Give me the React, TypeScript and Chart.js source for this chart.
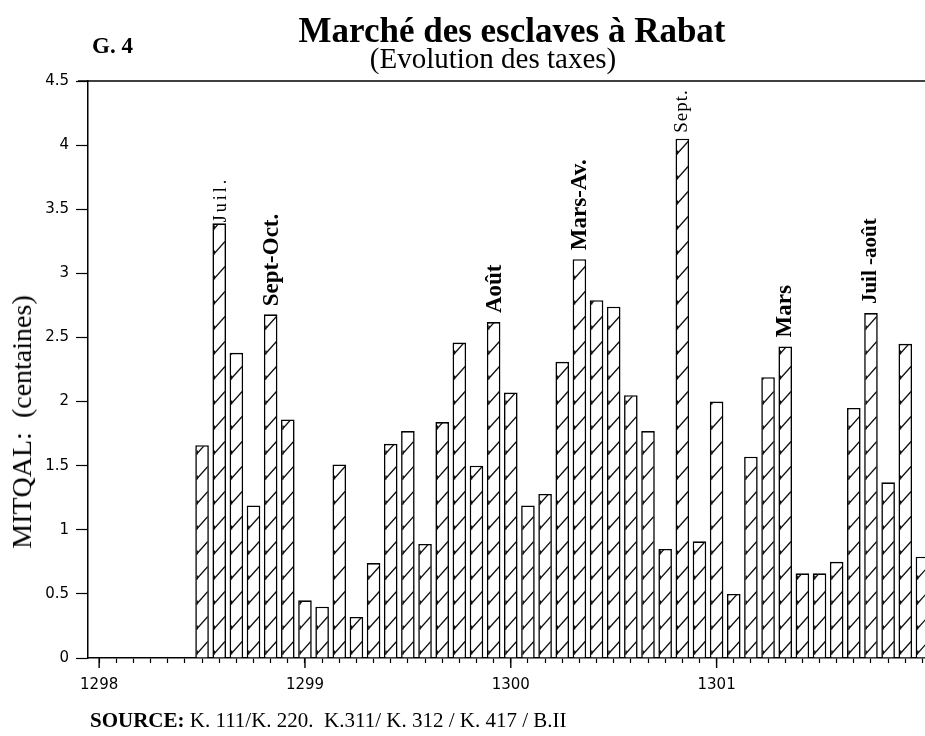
import React, { useEffect, useRef } from 'react';
import { Chart, registerables } from 'chart.js';

Chart.register(...registerables);

// Months counted from the start of 1298 (hijri), one bar per month
const monthIndex = Array.from({ length: 43 }, (_, i) => 6 + i);
const taxValues = [
  1.66, 3.39, 2.38, 1.19, 2.68, 1.86, 0.45, 0.40, 1.51, 0.32, 0.74, 1.67,
  1.77, 0.89, 1.84, 2.46, 1.50, 2.62, 2.07, 1.19, 1.28, 2.31, 3.11, 2.79,
  2.74, 2.05, 1.77, 0.85, 4.05, 0.91, 2.00, 0.50, 1.57, 2.19, 2.43, 0.66,
  0.66, 0.75, 1.95, 2.69, 1.37, 2.45, 0.79,
];
const monthTicks = Array.from({ length: 49 }, (_, i) => i);
const yearTicks = [0, 12, 24, 36];
const yearLabels = ['1298', '1299', '1300', '1301'];
const yTickValues = [0, 0.5, 1, 1.5, 2, 2.5, 3, 3.5, 4, 4.5];
const yTickLabels = ['0', '0.5', '1', '1.5', '2', '2.5', '3', '3.5', '4', '4.5'];
const noteBars = [1, 4, 17, 22, 28, 34, 39];
const noteTexts = ['Juil.', 'Sept-Oct.', 'Août', 'Mars-Av.', 'Sept.', 'Mars', 'Juil -août'];

const SERIF = '"Liberation Serif", "Times New Roman", serif';
const HAND = '"DejaVu Sans", sans-serif';

const noteStyles = [
  { bold: false, size: 18, spacing: 3, gap: 1, dx: 2 },
  { bold: true, size: 23, spacing: 0, gap: 8, dx: 1 },
  { bold: true, size: 23, spacing: 0, gap: 9, dx: 1 },
  { bold: true, size: 23, spacing: 0, gap: 9, dx: 1 },
  { bold: false, size: 19, spacing: 1, gap: 6, dx: 0 },
  { bold: true, size: 23, spacing: 0, gap: 9, dx: 0 },
  { bold: true, size: 21, spacing: 0, gap: 9, dx: 0 },
];

const hatchPlugin = {
  id: 'hatch',
  afterDatasetsDraw(chart: any) {
    const ctx = chart.ctx;
    const meta = chart.getDatasetMeta(0);
    const area = chart.chartArea;
    ctx.save();
    ctx.beginPath();
    ctx.rect(area.left, area.top, area.right - area.left, area.bottom - area.top);
    ctx.clip();
    meta.data.forEach((bar: any) => {
      const p = bar.getProps(['x', 'y', 'base', 'width'], true);
      const l = p.x - p.width / 2 + 1;
      const r = p.x + p.width / 2 - 1;
      const top = p.y + 1;
      const bottom = p.base - 1;
      ctx.save();
      ctx.beginPath();
      ctx.rect(l, top, r - l, bottom - top);
      ctx.clip();
      ctx.strokeStyle = '#111';
      ctx.lineWidth = 1.3;
      ctx.beginPath();
      for (let yy = bottom - 2; yy > top - 20; yy -= 25) {
        ctx.moveTo(l, yy);
        ctx.lineTo(r, yy - 13);
        ctx.moveTo(l + 1, yy);
        ctx.lineTo(l + 1, yy - 4);
      }
      ctx.stroke();
      ctx.restore();
    });
    ctx.restore();

    // rotated month notes above some bars
    noteBars.forEach((bi, k) => {
      const bar = meta.data[bi];
      if (!bar) return;
      const { x, y } = bar.getProps(['x', 'y'], true);
      const st = noteStyles[k];
      ctx.save();
      ctx.translate(x + st.dx, y - st.gap);
      ctx.rotate(-Math.PI / 2);
      ctx.font = `${st.bold ? 'bold ' : ''}${st.size}px ${SERIF}`;
      (ctx as any).letterSpacing = `${st.spacing}px`;
      ctx.fillStyle = '#000';
      ctx.textAlign = 'left';
      ctx.textBaseline = 'middle';
      ctx.fillText(noteTexts[k], 0, 0);
      ctx.restore();
    });
  },
  afterDraw(chart: any) {
    const ctx = chart.ctx;
    const area = chart.chartArea;
    const xs = chart.scales.x;
    ctx.save();
    ctx.strokeStyle = '#000';
    ctx.lineWidth = 1.5;
    ctx.beginPath();
    ctx.moveTo(area.left - 10, area.top);
    ctx.lineTo(area.right, area.top);
    ctx.stroke();
    ctx.lineWidth = 1.4;
    ctx.beginPath();
    yearTicks.forEach((v) => {
      const px = xs.getPixelForValue(v);
      ctx.moveTo(px, area.bottom);
      ctx.lineTo(px, area.bottom + 10);
    });
    ctx.stroke();
    ctx.restore();
  },
};

export default function App() {
  const canvasRef = useRef<HTMLCanvasElement | null>(null);

  useEffect(() => {
    if (!canvasRef.current) return;
    const chart = new Chart(canvasRef.current, {
      type: 'bar',
      data: {
        datasets: [
          {
            data: monthIndex.map((m, i) => ({ x: m, y: taxValues[i] })),
            backgroundColor: '#ffffff',
            borderColor: '#000000',
            borderWidth: 1.6,
            barPercentage: 0.9,
            categoryPercentage: 0.88,
          },
        ],
      },
      options: {
        animation: false,
        responsive: true,
        maintainAspectRatio: false,
        layout: { padding: { left: 8, top: 81, right: 0, bottom: 0 } },
        plugins: { legend: { display: false }, tooltip: { enabled: false }, title: { display: false } },
        scales: {
          x: {
            type: 'linear',
            offset: false,
            min: -0.65,
            max: 48.15,
            afterBuildTicks: (s: any) => {
              s.ticks = monthTicks.map((v) => ({ value: v }));
            },
            afterFit: (s: any) => {
              s.height = 78;
            },
            grid: { offset: false, drawOnChartArea: false, tickLength: 5, tickColor: '#000', tickWidth: 1.2 },
            border: { display: true, color: '#000', width: 1.5 },
            ticks: {
              autoSkip: false,
              maxRotation: 0,
              padding: 0,
              color: '#000',
              font: { family: HAND, size: 15, lineHeight: 2.9 },
              callback: (v: any) => {
                const i = yearTicks.indexOf(Number(v));
                return i >= 0 ? yearLabels[i] : '';
              },
            },
          },
          y: {
            min: 0,
            max: 4.5,
            afterBuildTicks: (s: any) => {
              s.ticks = yTickValues.map((v) => ({ value: v }));
            },
            afterFit: (s: any) => {
              s.width = 80;
            },
            grid: { drawOnChartArea: false, tickLength: 12, tickColor: '#000', tickWidth: 1.2 },
            border: { display: true, color: '#000', width: 1.5 },
            ticks: {
              padding: 7,
              color: '#000',
              font: { family: HAND, size: 15 },
              callback: (v: any) => {
                const i = yTickValues.indexOf(Number(v));
                return i >= 0 ? yTickLabels[i] : '';
              },
            },
          },
        },
      },
      plugins: [hatchPlugin],
    });
    return () => chart.destroy();
  }, []);

  const abs: React.CSSProperties = { position: 'absolute', whiteSpace: 'nowrap', color: '#000', fontFamily: SERIF };

  return (
    <div style={{ position: 'absolute', left: 0, top: 0, width: 925, height: 736, background: '#fff', overflow: 'hidden' }}>
      <div style={{ position: 'absolute', left: 0, top: 0, width: 925, height: 736 }}>
        <canvas ref={canvasRef} />
      </div>
      <div style={{ ...abs, left: 512, top: 31, transform: 'translate(-50%, -50%)', fontSize: 35, fontWeight: 'bold' }}>
        Marché des esclaves à Rabat
      </div>
      <div style={{ ...abs, left: 493, top: 58, transform: 'translate(-50%, -50%)', fontSize: 29 }}>
        (Evolution des taxes)
      </div>
      <div style={{ ...abs, left: 92, top: 46, transform: 'translate(0, -50%)', fontSize: 23, fontWeight: 'bold' }}>
        G. 4
      </div>
      <div style={{ ...abs, left: 22, top: 422, transform: 'translate(-50%, -50%) rotate(-90deg)', fontSize: 28 }}>
        MITQAL:&nbsp; (centaines)
      </div>
      <div style={{ ...abs, left: 90, top: 720, transform: 'translate(0, -50%)', fontSize: 21 }}>
        <b>SOURCE:</b> K. 111/K. 220.&nbsp; K.311/ K. 312 / K. 417 / B.II
      </div>
    </div>
  );
}
